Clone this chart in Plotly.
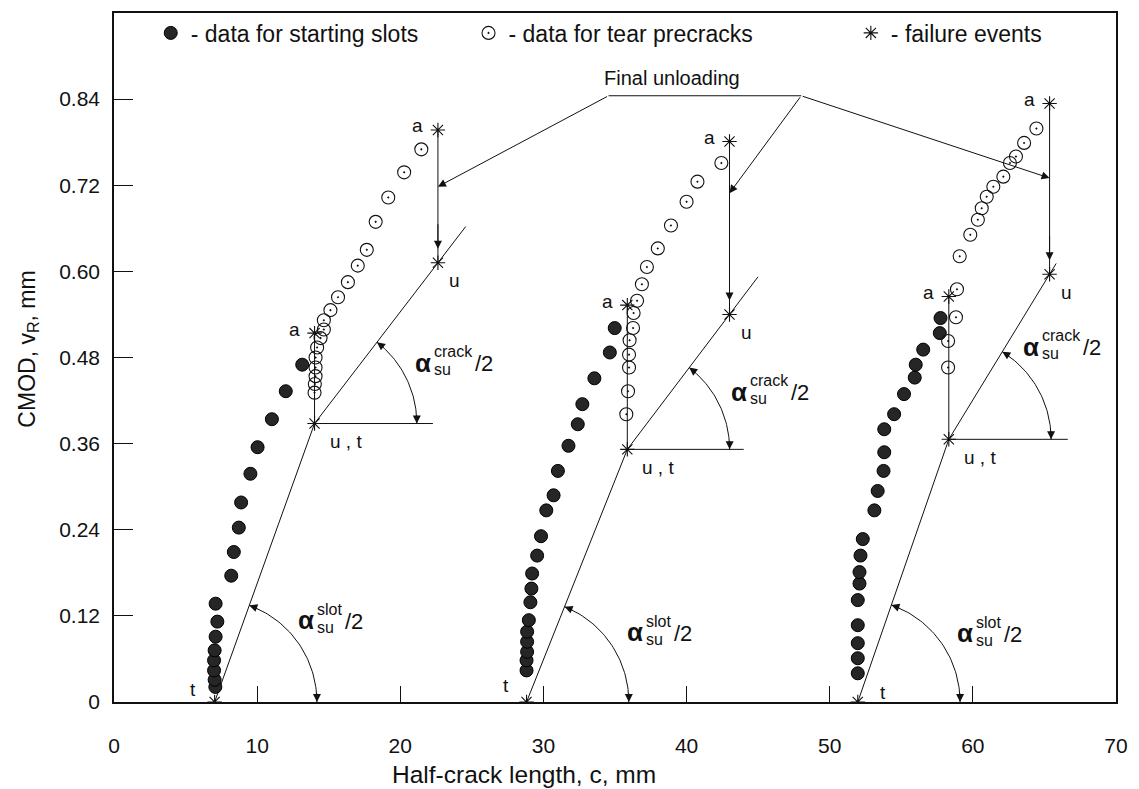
import numpy as np
import plotly.graph_objects as go

# ---------------- data ----------------
# specimen 1 (left)
slot_c_left = [7.08, 7.03, 6.99, 6.99, 7.03, 7.10, 7.22, 7.10, 8.19, 8.37, 8.72, 8.88, 9.53, 10.03, 11.03, 12.00, 13.15]
slot_v_left = [0.021, 0.031, 0.044, 0.058, 0.072, 0.091, 0.112, 0.137, 0.176, 0.209, 0.243, 0.278, 0.318, 0.355, 0.394, 0.433, 0.470]
crack_c_left = [14.01, 14.03, 14.08, 14.08, 14.08, 14.19, 14.43, 14.66, 14.66, 15.12, 15.65, 16.34, 17.03, 17.66, 18.28, 19.16, 20.27, 21.47]
crack_v_left = [0.431, 0.443, 0.454, 0.466, 0.480, 0.494, 0.507, 0.519, 0.532, 0.546, 0.564, 0.585, 0.608, 0.630, 0.669, 0.703, 0.738, 0.770]
# specimen 2 (middle)
slot_c_mid = [28.82, 28.82, 28.86, 28.86, 28.86, 28.98, 29.09, 29.16, 29.21, 29.56, 29.83, 30.20, 30.71, 31.01, 31.75, 32.40, 32.72, 33.56, 34.64, 34.98]
slot_v_mid = [0.044, 0.058, 0.070, 0.084, 0.098, 0.114, 0.139, 0.158, 0.179, 0.204, 0.231, 0.267, 0.288, 0.322, 0.357, 0.387, 0.415, 0.451, 0.487, 0.521]
crack_c_mid = [35.79, 35.91, 35.98, 35.98, 36.02, 36.26, 36.30, 36.54, 36.88, 37.23, 37.99, 38.91, 40.00, 40.76, 42.43]
crack_v_mid = [0.401, 0.433, 0.466, 0.484, 0.504, 0.521, 0.542, 0.559, 0.582, 0.606, 0.632, 0.664, 0.697, 0.725, 0.751]
# specimen 3 (right)
slot_c_right = [51.96, 51.96, 51.96, 51.96, 51.96, 52.08, 52.08, 52.15, 52.31, 53.12, 53.35, 53.76, 53.81, 53.81, 54.50, 55.19, 55.94, 56.01, 56.53, 57.69, 57.74]
slot_v_right = [0.040, 0.061, 0.082, 0.107, 0.142, 0.165, 0.181, 0.204, 0.227, 0.267, 0.294, 0.322, 0.348, 0.380, 0.401, 0.429, 0.452, 0.470, 0.491, 0.514, 0.535]
crack_c_right = [58.27, 58.27, 58.82, 58.89, 59.08, 59.82, 60.35, 60.62, 60.97, 61.43, 62.13, 62.59, 63.01, 63.58, 64.44]
crack_v_right = [0.466, 0.503, 0.536, 0.575, 0.621, 0.651, 0.672, 0.688, 0.704, 0.718, 0.732, 0.751, 0.760, 0.779, 0.799]

# failure events per specimen (left, middle, right)
t_c = [7.03, 28.82, 51.96]
t_v = [0.0, 0.0, 0.0]
ut_c = [14.01, 35.86, 58.32]
ut_v = [0.388, 0.352, 0.366]
alow_v = [0.514, 0.553, 0.565]
u_c = [22.63, 43.00, 65.36]
u_v = [0.612, 0.540, 0.596]
atop_v = [0.797, 0.781, 0.834]
crack_end_c = [24.57, 44.99, 65.82]
horiz_end_c = [22.28, 43.99, 66.63]
unload_tip_v = [0.718, 0.709, 0.730]

x_ticks = [0, 10, 20, 30, 40, 50, 60, 70]
y_ticks = [0, 0.12, 0.24, 0.36, 0.48, 0.60, 0.72, 0.84]
y_tick_text = ["0", "0.12", "0.24", "0.36", "0.48", "0.60", "0.72", "0.84"]

# ---------------- layout geometry ----------------
W, H = 1139, 789
ML, MR, MT, MB = 114, 16, 11, 87
X_MAX, Y_MAX = 70, 0.96
SX = (W - ML - MR) / X_MAX
SY = (H - MT - MB) / Y_MAX
PW = W - ML - MR
PH = H - MT - MB
INK = "#111111"
FONT = "Liberation Sans, Arial, sans-serif"


def px2c(px):
    return (px - ML) / SX


def py2v(py):
    return (H - MB - py) / SY


fig = go.Figure()

lx, ly = [], []


def seg(x0, y0, x1, y1):
    lx.extend([x0, x1, None])
    ly.extend([y0, y1, None])


annotations = []


def head(x, y, ux, uy, L=10):
    annotations.append(dict(x=x, y=y, xref="x", yref="y", text="", showarrow=True,
                            ax=-ux * L, ay=-uy * L, arrowhead=2, arrowsize=1.6,
                            arrowwidth=1, arrowcolor=INK, standoff=0))


arc_x, arc_y = [], []
R = 103


def arc(c0, v0, c1, v1):
    th = np.arctan2((v1 - v0) * SY, (c1 - c0) * SX)
    phi = np.linspace(0, th, 50)
    arc_x.extend(list(c0 + R * np.cos(phi) / SX) + [None])
    arc_y.extend(list(v0 + R * np.sin(phi) / SY) + [None])
    head(c0 + R / SX, v0, 0, 1)
    head(c0 + R * np.cos(th) / SX, v0 + R * np.sin(th) / SY, -np.sin(th), -np.cos(th))


for i in range(3):
    seg(t_c[i], t_v[i], ut_c[i], ut_v[i])
    slope = (u_v[i] - ut_v[i]) / (u_c[i] - ut_c[i])
    seg(ut_c[i], ut_v[i], crack_end_c[i], ut_v[i] + slope * (crack_end_c[i] - ut_c[i]))
    seg(ut_c[i], ut_v[i], horiz_end_c[i], ut_v[i])
    seg(ut_c[i], alow_v[i], ut_c[i], ut_v[i])
    seg(u_c[i], atop_v[i], u_c[i], u_v[i])
    arc(t_c[i], t_v[i], ut_c[i], ut_v[i])
    arc(ut_c[i], ut_v[i], u_c[i], u_v[i])
    annotations.append(dict(x=u_c[i], y=u_v[i], xref="x", yref="y", text="", showarrow=True,
                            ax=0, ay=-40, arrowhead=2, arrowsize=1.6, arrowwidth=1,
                            arrowcolor=INK, standoff=14))

fig.add_trace(go.Scatter(x=lx, y=ly, mode="lines", line=dict(color=INK, width=1),
                         showlegend=False, hoverinfo="skip"))
fig.add_trace(go.Scatter(x=arc_x, y=arc_y, mode="lines", line=dict(color=INK, width=1),
                         showlegend=False, hoverinfo="skip"))

slot_c = slot_c_left + slot_c_mid + slot_c_right
slot_v = slot_v_left + slot_v_mid + slot_v_right
crack_c = crack_c_left + crack_c_mid + crack_c_right
crack_v = crack_v_left + crack_v_mid + crack_v_right

fig.add_trace(go.Scatter(x=slot_c, y=slot_v, mode="markers", name="- data for starting slots",
                         marker=dict(symbol="circle", size=13, color="#262626",
                                     line=dict(color="#000000", width=1)),
                         legend="legend"))
fig.add_trace(go.Scatter(x=crack_c, y=crack_v, mode="markers", name="- data for tear precracks",
                         marker=dict(symbol="circle-open-dot", size=13, color=INK,
                                     line=dict(color=INK, width=1.1)),
                         legend="legend2"))
star_c = t_c + ut_c + ut_c + u_c + u_c
star_v = t_v + ut_v + alow_v + u_v + atop_v
fig.add_trace(go.Scatter(x=star_c, y=star_v, mode="markers", name="- failure events",
                         marker=dict(symbol="asterisk-open", size=12, color=INK,
                                     line=dict(color=INK, width=1.1)),
                         legend="legend3"))

# point labels
LBL = dict(size=19, family=FONT, color=INK)
t_shift = [(-22, 13), (-21, 17), (25, 10)]
for i in range(3):
    annotations.append(dict(x=t_c[i], y=t_v[i], text="t", showarrow=False, font=LBL,
                            xshift=t_shift[i][0], yshift=t_shift[i][1]))
    annotations.append(dict(x=ut_c[i], y=ut_v[i], text="u , t", showarrow=False, font=LBL,
                            xshift=31, yshift=-18))
    annotations.append(dict(x=ut_c[i], y=alow_v[i], text="a", showarrow=False, font=LBL,
                            xshift=-20, yshift=4))
    annotations.append(dict(x=u_c[i], y=atop_v[i], text="a", showarrow=False, font=LBL,
                            xshift=-20, yshift=4))
    annotations.append(dict(x=u_c[i], y=u_v[i], text="u", showarrow=False, font=LBL,
                            xshift=17, yshift=-18))

# angle labels
ALPHA = dict(size=26, family=FONT, color=INK)
SMALL = dict(size=16, family=FONT, color=INK)
HALF = dict(size=22, family=FONT, color=INK)
slot_off = [(92, -82), (109, -70), (108, -69)]
crack_off = [(109, -61), (112, -58), (83, -93)]


def alpha_label(c0, v0, off, sup, wsup):
    ac = c0 + off[0] / SX
    av = v0 - off[1] / SY
    annotations.append(dict(x=ac, y=av, text="<b>α</b>", showarrow=False, font=ALPHA))
    annotations.append(dict(x=ac, y=av, text=sup, showarrow=False, font=SMALL,
                            xanchor="left", xshift=9, yshift=11))
    annotations.append(dict(x=ac, y=av, text="su", showarrow=False, font=SMALL,
                            xanchor="left", xshift=9, yshift=-7))
    annotations.append(dict(x=ac, y=av, text="/2", showarrow=False, font=HALF,
                            xanchor="left", xshift=9 + wsup + 1, yshift=-1))


for i in range(3):
    alpha_label(t_c[i], t_v[i], slot_off[i], "slot", 27)
    alpha_label(ut_c[i], ut_v[i], crack_off[i], "crack", 40)

# final unloading callout
lead_l = (px2c(612), py2v(94))
lead_r = (px2c(806), py2v(94))
annotations.append(dict(x=px2c(676), y=py2v(76), text="Final unloading", showarrow=False,
                        font=dict(size=20, family=FONT, color=INK)))
starts = [lead_l, lead_r, lead_r]
for i in range(3):
    annotations.append(dict(x=u_c[i], y=unload_tip_v[i], xref="x", yref="y", text="",
                            showarrow=True, axref="x", ayref="y",
                            ax=starts[i][0], ay=starts[i][1], arrowhead=2, arrowsize=1.6,
                            arrowwidth=1, arrowcolor=INK, standoff=0))
shapes = [dict(type="line", xref="x", yref="y", x0=lead_l[0], y0=lead_l[1],
               x1=lead_r[0], y1=lead_r[1], line=dict(color=INK, width=1))]

# axis titles (placed like the reference)
annotations.append(dict(x=(527 - ML) / PW, y=-(775 - (H - MB)) / PH, xref="paper", yref="paper",
                        xanchor="center", yanchor="middle",
                        text="Half-crack length, c, mm", showarrow=False,
                        font=dict(size=24.5, family=FONT, color=INK)))
annotations.append(dict(x=-(ML - 27) / PW, y=(H - MB - 348) / PH, xref="paper", yref="paper",
                        xanchor="center", yanchor="middle",
                        text="CMOD, v<sub>R</sub>, mm", showarrow=False, textangle=-90,
                        font=dict(size=23, family=FONT, color=INK)))

leg_common = dict(orientation="h", yanchor="middle", xanchor="left",
                  y=(H - MB - 31) / PH, bgcolor="rgba(0,0,0,0)", borderwidth=0,
                  font=dict(size=23, family=FONT, color=INK))

fig.update_layout(
    width=W, height=H, autosize=False,
    margin=dict(l=ML, r=MR, t=MT, b=MB, pad=0),
    paper_bgcolor="white", plot_bgcolor="white",
    font=dict(family=FONT, color=INK),
    annotations=annotations, shapes=shapes,
    legend=dict(x=(151 - ML) / PW, **leg_common),
    legend2=dict(x=(471 - ML) / PW, **leg_common),
    legend3=dict(x=(856 - ML) / PW, **leg_common),
    xaxis=dict(range=[0, X_MAX], tickvals=x_ticks, ticks="inside", ticklen=16,
               tickwidth=1.3, tickcolor=INK, showline=True, linecolor=INK, linewidth=1.5,
               mirror=True, showgrid=False, zeroline=False,
               tickfont=dict(size=21, family=FONT, color=INK), ticklabelstandoff=24),
    yaxis=dict(range=[0, Y_MAX], tickvals=y_ticks, ticktext=y_tick_text, ticks="inside",
               ticklen=19, tickwidth=1.3, tickcolor=INK, showline=True, linecolor=INK,
               linewidth=1.5, mirror=True, showgrid=False, zeroline=False,
               tickfont=dict(size=21, family=FONT, color=INK), ticklabelstandoff=8),
)

fig.write_html("out.html", config={"displayModeBar": False},
               post_script="document.body.style.margin='0px';")
